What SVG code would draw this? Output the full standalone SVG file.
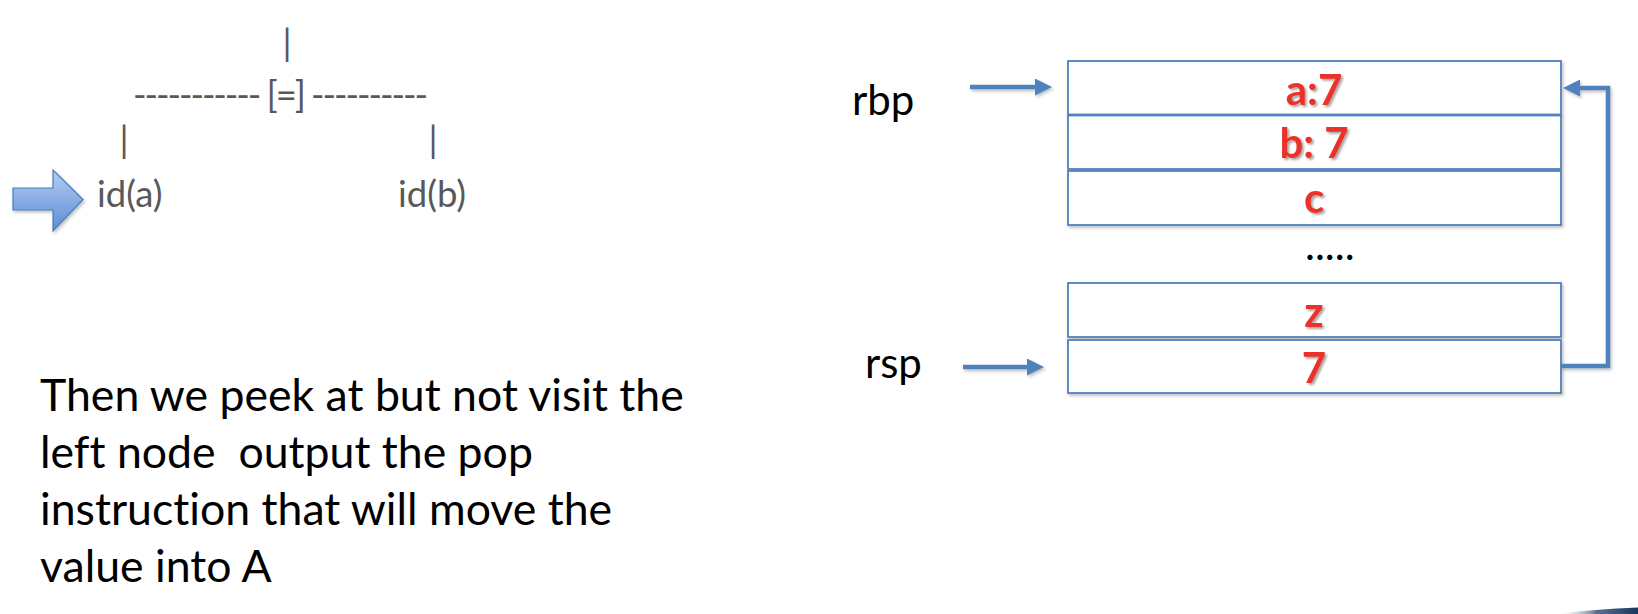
<svg xmlns="http://www.w3.org/2000/svg" width="1638" height="614" viewBox="0 0 1638 614">
  <style>
    text { font-variant-ligatures: none; }
    .tree { font-family: Lato, "Open Sans", sans-serif; font-size: 36.5px; fill: #595959; }
    .lbl { font-family: Lato, "Open Sans", sans-serif; font-size: 42px; fill: #000000; }
    .para { font-family: Lato, "Open Sans", sans-serif; font-size: 44.6px; fill: #000000; white-space: pre; }
    .val { font-family: Lato, "Open Sans", sans-serif; font-size: 42px; font-weight: bold; fill: #E8322A; text-anchor: middle; filter: url(#tshadow); }
    .cell { fill: #ffffff; stroke: #4F81BD; stroke-width: 1.8; filter: url(#bshadow); }
    .conn { fill: none; stroke: #4F81BD; stroke-width: 4.5; marker-end: url(#ah); filter: url(#cshadow); }
  </style>
  <defs>
    <filter id="tshadow" x="-20%" y="-20%" width="140%" height="140%">
      <feDropShadow dx="2" dy="2" stdDeviation="1.2" flood-color="#000" flood-opacity="0.35"/>
    </filter>
    <filter id="bshadow" x="-5%" y="-20%" width="110%" height="140%">
      <feDropShadow dx="1.5" dy="2" stdDeviation="1.5" flood-color="#000" flood-opacity="0.25"/>
    </filter>
    <filter id="cshadow" filterUnits="userSpaceOnUse" x="0" y="0" width="1638" height="614">
      <feDropShadow dx="1.5" dy="2" stdDeviation="1.5" flood-color="#000" flood-opacity="0.25"/>
    </filter>
    <marker id="ah" markerUnits="userSpaceOnUse" markerWidth="17" markerHeight="17" viewBox="0 0 17 17" refX="6" refY="8.5" orient="auto">
      <path d="M0,0 L17,8.5 L0,17 Z" fill="#4F81BD"/>
    </marker>
    <linearGradient id="blk" x1="0" y1="0" x2="0" y2="1">
      <stop offset="0" stop-color="#B4CDF0"/>
      <stop offset="1" stop-color="#5B8DD6"/>
    </linearGradient>
    <linearGradient id="deco" x1="0" y1="0" x2="1" y2="0">
      <stop offset="0" stop-color="#ffffff" stop-opacity="0"/>
      <stop offset="0.5" stop-color="#5A6F92"/>
      <stop offset="1" stop-color="#17365D"/>
    </linearGradient>
  </defs>

  <rect width="1638" height="614" fill="#ffffff"/>

  <!-- tree -->
  <g id="tree-root">
    <text class="tree" x="287" y="56" text-anchor="middle">|</text>
    <text class="tree" x="133" y="108" textLength="295" lengthAdjust="spacing">----------- [=] ----------</text>
  </g>
  <g id="tree-branches">
    <text class="tree" x="124" y="153" text-anchor="middle">|</text>
    <text class="tree" x="433" y="153" text-anchor="middle">|</text>
  </g>
  <g id="node-ida">
    <text class="tree" x="97" y="207">id(a)</text>
  </g>
  <g id="node-idb">
    <text class="tree" x="398" y="207">id(b)</text>
  </g>
  <g id="pointer-arrow">
    <path d="M13,188 H53 V170 L83,199.5 L53,231 V210 H13 Z" fill="url(#blk)" stroke="#4A7EBB" stroke-width="1.2" filter="url(#bshadow)"/>
  </g>

  <!-- paragraph -->
  <g id="caption">
    <text class="para" x="40" y="411">Then we peek at but not visit the</text>
    <text class="para" x="40" y="468">left node  output the pop</text>
    <text class="para" x="40" y="525">instruction that will move the</text>
    <text class="para" x="40" y="582">value into A</text>
  </g>

  <!-- labels -->
  <g id="label-rbp"><text class="lbl" x="852" y="115">rbp</text></g>
  <g id="label-rsp"><text class="lbl" x="865" y="378">rsp</text></g>

  <!-- stack -->
  <g id="cell-a"><rect class="cell" x="1068" y="61" width="493" height="53.5"/><text class="val" x="1314" y="105">a:7</text></g>
  <g id="cell-b"><rect class="cell" x="1068" y="115.5" width="493" height="53.5"/><text class="val" x="1314" y="158">b: 7</text></g>
  <g id="cell-c"><rect class="cell" x="1068" y="171" width="493" height="54"/><text class="val" x="1314" y="213">c</text></g>
  <g id="ellipsis"><text class="lbl" x="1305" y="260">.....</text></g>
  <g id="cell-z"><rect class="cell" x="1068" y="283" width="493" height="54"/><text class="val" x="1314" y="327">z</text></g>
  <g id="cell-7"><rect class="cell" x="1068" y="340" width="493" height="53"/><text class="val" x="1314" y="383">7</text></g>

  <!-- connectors -->
  <g id="connectors">
    <path class="conn" d="M970,87 H1041"/>
    <path class="conn" d="M963,367 H1033"/>
    <path class="conn" d="M1561,366 H1608 V88 H1574"/>
  </g>

  <!-- decoration -->
  <path d="M1555,614 Q1595,609 1638,607.5 V614 Z" fill="url(#deco)"/>
</svg>
